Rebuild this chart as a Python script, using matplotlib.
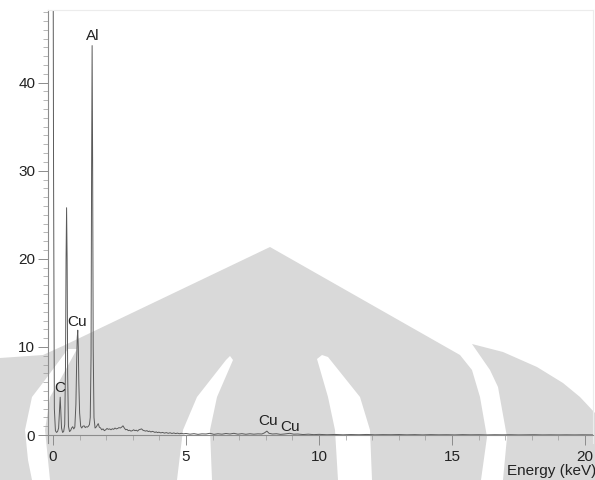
import matplotlib
matplotlib.use("Agg")
import matplotlib.pyplot as plt
from matplotlib.patches import Polygon
from matplotlib.ticker import MultipleLocator

plt.rcParams['font.family'] = ['Liberation Sans', 'DejaVu Sans']

# EDS spectrum: energy (keV) and counts (in thousands)
energy_kev = [
    0.00, 0.02, 0.05, 0.09, 0.13, 0.17, 0.21, 0.25, 0.27, 0.29, 0.32, 0.36,
    0.40, 0.44, 0.47, 0.49, 0.51, 0.53, 0.55, 0.58, 0.62, 0.66, 0.70, 0.74,
    0.78, 0.82, 0.86, 0.89, 0.91, 0.93, 0.95, 0.97, 1.00, 1.04, 1.08, 1.12,
    1.17, 1.21, 1.25, 1.29, 1.33, 1.37, 1.40, 1.43, 1.45, 1.47, 1.49, 1.51,
    1.54, 1.58, 1.62, 1.66, 1.70, 1.74, 1.79, 1.83, 1.88, 1.93, 1.98, 2.03,
    2.08, 2.13, 2.18, 2.23, 2.28, 2.33, 2.38, 2.43, 2.48, 2.53, 2.58, 2.63,
    2.68, 2.73, 2.78, 2.83, 2.88, 2.93, 2.98, 3.03, 3.08, 3.13, 3.18, 3.23,
    3.28, 3.33, 3.38, 3.43, 3.48, 3.53, 3.58, 3.63, 3.68, 3.73, 3.78, 3.83,
    3.88, 3.93, 3.98, 4.05, 4.12, 4.19, 4.26, 4.33, 4.40, 4.47, 4.54, 4.61,
    4.68, 4.75, 4.82, 4.90, 5.00, 5.15, 5.30, 5.45, 5.60, 5.75, 5.90, 6.05,
    6.20, 6.35, 6.50, 6.65, 6.80, 6.95, 7.10, 7.25, 7.40, 7.55, 7.70, 7.85,
    7.95, 8.04, 8.12, 8.25, 8.40, 8.55, 8.70, 8.90, 9.05, 9.20, 9.40, 9.60,
    9.80, 10.0, 10.3, 10.6, 10.9, 11.2, 11.5, 11.8, 12.1, 12.4, 12.7, 13.0,
    13.3, 13.6, 13.9, 14.2, 14.5, 14.8, 15.1, 15.4, 15.7, 16.0, 16.3, 16.6,
    16.9, 17.2, 17.5, 17.8, 18.1, 18.4, 18.7, 19.0, 19.3, 19.6, 19.9, 20.3,
]
counts = [
    62.0, 30.0, 3.0, 0.5, 0.3, 0.4, 0.8, 3.0, 4.3, 3.0, 0.8, 0.3,
    0.4, 1.2, 8.0, 20.0, 25.8, 20.0, 7.0, 1.0, 0.4, 0.5, 0.8, 0.95,
    0.7, 0.9, 3.5, 8.5, 11.0, 11.9, 10.0, 6.0, 2.5, 1.0, 0.8, 1.0,
    1.05, 0.85, 0.95, 0.9, 1.0, 1.2, 2.0, 9.0, 30.0, 44.2, 30.0, 10.0,
    2.0, 0.8, 0.9, 1.1, 1.3, 0.9, 0.8, 0.6, 0.7, 0.5, 0.6, 0.75,
    0.65, 0.7, 0.6, 0.72, 0.65, 0.8, 0.7, 0.75, 0.85, 0.8, 0.9, 1.05,
    0.8, 0.6, 0.65, 0.5, 0.55, 0.45, 0.5, 0.6, 0.5, 0.55, 0.45, 0.6,
    0.65, 0.7, 0.55, 0.5, 0.45, 0.5, 0.4, 0.45, 0.35, 0.42, 0.38, 0.3,
    0.36, 0.28, 0.33, 0.25, 0.3, 0.22, 0.28, 0.2, 0.26, 0.18, 0.24, 0.17,
    0.22, 0.15, 0.2, 0.14, 0.18, 0.1, 0.16, 0.08, 0.14, 0.12, 0.2, 0.08,
    0.15, 0.1, 0.18, 0.12, 0.2, 0.1, 0.16, 0.09, 0.15, 0.1, 0.14, 0.12,
    0.25, 0.45, 0.2, 0.12, 0.15, 0.08, 0.12, 0.2, 0.1, 0.12, 0.06, 0.1,
    0.05, 0.08, 0.04, 0.07, 0.03, 0.06, 0.04, 0.07, 0.03, 0.05, 0.04, 0.06,
    0.03, 0.05, 0.02, 0.05, 0.03, 0.04, 0.02, 0.05, 0.03, 0.04, 0.02, 0.04,
    0.03, 0.04, 0.02, 0.03, 0.04, 0.02, 0.03, 0.02, 0.03, 0.02, 0.03, 0.02,
]

# Element labels: text, energy (keV), label height
peak_labels = ["Al", "Cu", "C", "Cu", "Cu"]
label_energy = [1.50, 0.90, 0.27, 8.08, 8.92]
label_height = [45.3, 12.8, 5.3, 1.6, 0.9]

x_ticks = [0, 5, 10, 15, 20]
y_ticks = [0, 10, 20, 30, 40]

W, H = 595, 480
FS = 11
fig = plt.figure(figsize=(W / 100, H / 100), dpi=100)

# Background layer with the logo watermark (pixel coordinates, y downwards)
bg = fig.add_axes([0, 0, 1, 1], zorder=0)
bg.set_xlim(0, W)
bg.set_ylim(H, 0)
bg.axis("off")
grey = "#d9d9d9"
house = [(0, 358), (43, 355), (65, 345), (270, 247), (460, 355),
         (472, 370), (480, 397), (487, 437), (481, 480), (0, 480)]
right_part = [(472, 344), (503, 352), (537, 367), (563, 383), (580, 397),
              (595, 413), (595, 480), (503, 480), (507, 437), (498, 387),
              (490, 370)]
left_gap = [(68, 349), (77, 349), (60, 380), (50, 397), (45, 430),
            (48, 460), (50, 480), (32, 480), (28, 460), (25, 430),
            (32, 397), (45, 380)]
left_arc = [(226, 360), (230, 356), (233, 360), (217, 397), (210, 430),
            (212, 480), (177, 480), (183, 430), (197, 397)]
right_arc = [(317, 359), (322, 355), (328, 357), (360, 397), (370, 430),
             (372, 480), (338, 480), (335, 430), (328, 397)]
for pts in (house, right_part):
    bg.add_patch(Polygon(pts, closed=True, facecolor=grey, edgecolor="none"))
for pts in (left_gap, left_arc, right_arc):
    bg.add_patch(Polygon(pts, closed=True, facecolor="white", edgecolor="none"))

# Spectrum axes
ax = fig.add_axes([47.7 / W, 1 - 443 / H, (593 - 47.7) / W, 433 / H], zorder=1)
ax.set_facecolor("none")
ax.plot(energy_kev, counts, color="#5a5a5a", lw=0.7)
ax.set_xlim(-0.2, 20.3)
ax.set_ylim(-0.9, 48.24)

ax.spines["bottom"].set_position(("data", 0))
for side in ("left", "bottom"):
    ax.spines[side].set_color("#8c8c8c")
    ax.spines[side].set_linewidth(0.8)
for side in ("top", "right"):
    ax.spines[side].set_color("#ececec")
    ax.spines[side].set_linewidth(0.8)

ax.set_xticks(x_ticks)
ax.set_yticks(y_ticks)
ax.xaxis.set_minor_locator(MultipleLocator(1))
ax.yaxis.set_minor_locator(MultipleLocator(1))
ax.tick_params(which="major", length=7, width=0.7, color="#8c8c8c",
               labelsize=FS, labelcolor="#222222")
ax.tick_params(which="minor", length=3.5, width=0.5, color="#9a9a9a")
ax.tick_params(axis="x", pad=4)
ax.tick_params(axis="y", pad=2)

for txt, ex, ey in zip(peak_labels, label_energy, label_height):
    ax.text(ex, ey, txt, ha="center", va="center", fontsize=FS,
            color="#222222")

fig.text(596 / W, 1 - 471 / H, "Energy (keV)", ha="right", va="center",
         fontsize=FS, color="#222222")

fig.savefig("out.png", dpi=100)
